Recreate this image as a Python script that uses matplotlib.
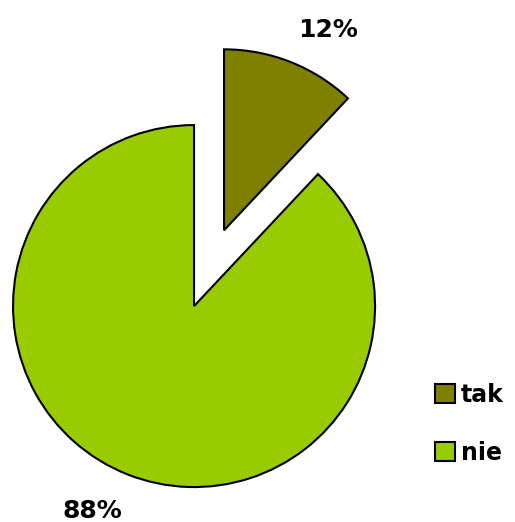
import matplotlib
matplotlib.use('Agg')
import matplotlib.pyplot as plt

labels = ['tak', 'nie']
values = [12, 88]
colors = ['#808000', '#99CC00']
explode = [0.45, 0]
# label centres (data units, pie radius = 1)
label_pos = [(0.74, 1.525), (-0.56, -1.13)]

fig = plt.figure(figsize=(5.15, 5.22), dpi=100)
ax = fig.add_axes([0, 0, 1, 1])

wedges, texts, autotexts = ax.pie(
    values, explode=explode, colors=colors, startangle=90, counterclock=False,
    autopct='%1.0f%%', pctdistance=1.25,
    wedgeprops=dict(edgecolor='black', linewidth=1.5),
    textprops=dict(fontsize=18, fontweight='bold', color='black'))
for t, pos in zip(autotexts, label_pos):
    t.set_position(pos)

ax.set_xlim(-1.072, 1.773)
ax.set_ylim(-1.193, 1.691)
ax.set_aspect('auto')
ax.axis('off')

fig.legend(wedges, labels, loc='center left', bbox_to_anchor=(0.822, 0.188),
           frameon=False, prop=dict(size=17, weight='bold'),
           handlelength=0.85, handleheight=0.85, handletextpad=0.25,
           labelspacing=1.45, borderpad=0)

fig.savefig('out.png', dpi=100)
